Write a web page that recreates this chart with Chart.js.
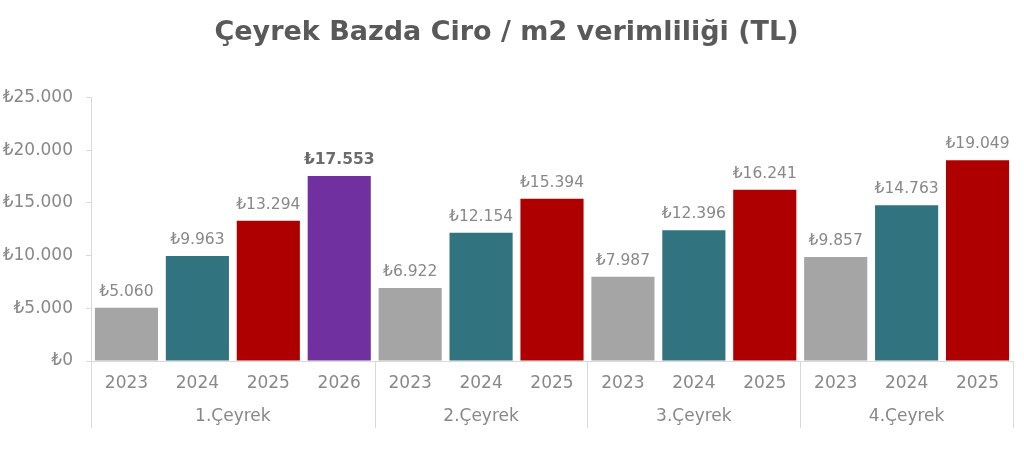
<!DOCTYPE html>
<html>
<head>
<meta charset="utf-8">
<script src="https://cdn.jsdelivr.net/npm/chart.js@4"></script>
<style>
  html, body { margin: 0; padding: 0; background: #fff; }
  #wrap { width: 1024px; height: 455px; }
</style>
</head>
<body>
<div id="wrap"><canvas id="myChart" width="1024" height="455"></canvas></div>
<script>
// data
var quarters = ['1.Çeyrek', '2.Çeyrek', '3.Çeyrek', '4.Çeyrek'];
var q1Years = ['2023', '2024', '2025', '2026'];
var q1Values = [5060, 9963, 13294, 17553];
var q2Years = ['2023', '2024', '2025'];
var q2Values = [6922, 12154, 15394];
var q3Years = ['2023', '2024', '2025'];
var q3Values = [7987, 12396, 16241];
var q4Years = ['2023', '2024', '2025'];
var q4Values = [9857, 14763, 19049];
var yTicks = [0, 5000, 10000, 15000, 20000, 25000];

var yearColors = { '2023': '#A5A5A5', '2024': '#31737F', '2025': '#AE0000', '2026': '#7030A0' };
var textGray = '#888888';

var groups = [
  { name: quarters[0], years: q1Years, values: q1Values },
  { name: quarters[1], years: q2Years, values: q2Values },
  { name: quarters[2], years: q3Years, values: q3Values },
  { name: quarters[3], years: q4Years, values: q4Values }
];

var labels = [], values = [], colors = [], groupStart = [];
groups.forEach(function (g) {
  groupStart.push(labels.length);
  g.years.forEach(function (y, i) {
    labels.push(y);
    values.push(g.values[i]);
    colors.push(yearColors[y]);
  });
});

function fmt(v) {
  return '₺' + String(v).replace(/\B(?=(\d{3})+(?!\d))/g, '.');
}

var FONT = 'DejaVu Sans, Verdana, sans-serif';

// value labels above bars
var valueLabels = {
  id: 'valueLabels',
  afterDatasetsDraw: function (chart) {
    var ctx = chart.ctx;
    var meta = chart.getDatasetMeta(0);
    ctx.save();
    ctx.textAlign = 'center';
    ctx.textBaseline = 'middle';
    meta.data.forEach(function (bar, i) {
      var bold = labels[i] === '2026';
      ctx.font = (bold ? 'bold ' : '') + '15.5px ' + FONT;
      ctx.fillStyle = bold ? '#6B6B6B' : textGray;
      ctx.fillText(fmt(values[i]), bar.x, bar.y - 16);
    });
    ctx.restore();
  }
};

// quarter labels and separators under the x axis
var groupAxis = {
  id: 'groupAxis',
  afterDraw: function (chart) {
    var ctx = chart.ctx;
    var x = chart.scales.x;
    var half = (x.getPixelForValue(1) - x.getPixelForValue(0)) / 2;
    ctx.save();
    ctx.strokeStyle = '#D9D9D9';
    ctx.lineWidth = 1;
    ctx.font = '17px ' + FONT;
    ctx.fillStyle = textGray;
    ctx.textAlign = 'center';
    ctx.textBaseline = 'middle';
    groups.forEach(function (g, gi) {
      var first = groupStart[gi];
      var last = first + g.years.length - 1;
      var left = x.getPixelForValue(first) - half;
      var right = x.getPixelForValue(last) + half;
      ctx.beginPath();
      ctx.moveTo(Math.round(left) + 0.5, x.top);
      ctx.lineTo(Math.round(left) + 0.5, x.bottom);
      if (gi === groups.length - 1) {
        ctx.moveTo(Math.round(right) + 0.5, x.top);
        ctx.lineTo(Math.round(right) + 0.5, x.bottom);
      }
      ctx.stroke();
      ctx.fillText(g.name, (left + right) / 2, x.top + 56);
    });
    ctx.restore();
  }
};

var ctx = document.getElementById('myChart').getContext('2d');
var myChart = new Chart(ctx, {
  type: 'bar',
  data: {
    labels: labels,
    datasets: [{
      data: values,
      backgroundColor: colors,
      barPercentage: 0.89,
      categoryPercentage: 1.0
    }]
  },
  options: {
    responsive: false,
    animation: false,
    layout: { padding: { left: 0, right: 11, top: 0, bottom: 27 } },
    plugins: {
      legend: { display: false },
      tooltip: { enabled: false },
      title: {
        display: true,
        text: 'Çeyrek Bazda Ciro / m2 verimliliği (TL)',
        color: '#595959',
        font: { family: FONT, size: 27, weight: 'bold' },
        padding: { top: 17, bottom: 48 }
      }
    },
    scales: {
      y: {
        min: 0,
        max: 25000,
        afterBuildTicks: function (scale) {
          scale.ticks = yTicks.map(function (v) { return { value: v }; });
        },
        afterFit: function (scale) { scale.width = 91; },
        grid: { drawOnChartArea: false, drawTicks: true, tickLength: 5, color: '#D9D9D9' },
        border: { display: true, color: '#D9D9D9' },
        ticks: {
          color: textGray,
          padding: 13,
          font: { family: FONT, size: 17 },
          callback: function (v) { return fmt(v); }
        }
      },
      x: {
        afterFit: function (scale) { scale.height = 67; },
        grid: { display: true, drawOnChartArea: false, drawTicks: false, color: 'rgba(0,0,0,0)' },
        border: { display: true, color: '#D9D9D9' },
        ticks: {
          color: textGray,
          padding: 12,
          maxRotation: 0,
          autoSkip: false,
          font: { family: FONT, size: 17 }
        }
      }
    }
  },
  plugins: [valueLabels, groupAxis]
});
</script>
</body>
</html>
